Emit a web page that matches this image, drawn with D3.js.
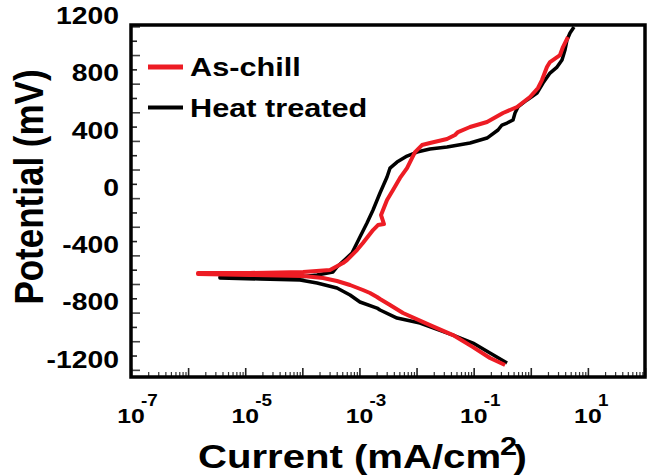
<!DOCTYPE html>
<html>
<head>
<meta charset="utf-8">
<script src="https://cdn.jsdelivr.net/npm/d3@7"></script>
<style>
  body { margin: 0; background: #fff; }
  text { font-family: "Liberation Sans", Arial, sans-serif; font-weight: bold; fill: #000; }
</style>
</head>
<body>
<div class="chart"></div>
<script>
var w = 652;
var h = 475;

// potentiodynamic scans: cathodic branch first, then anodic (mA/cm2, mV)
var asChillCurrent = [0.354, 0.193, 0.0973, 0.0435, 0.0172, 0.00579, 0.00343, 0.00229, 0.00203, 0.00153, 0.00115, 0.000684, 0.000404, 0.00023, 0.000103, 1.21e-5, 1.49e-6,
    1.49e-6, 1.21e-5, 1.03e-4, 3.05e-4, 5.15e-4, 6.05e-4, 9.06e-4, 1.15e-3, 1.73e-3, 2.11e-3, 2.69e-3, 2.39e-3, 3.04e-3, 3.87e-3, 5.13e-3, 6.81e-3, 8.32e-3, 9.40e-3,
    0.01245, 0.01718, 0.0341, 0.0471, 0.0532, 0.0863, 0.1714, 0.3266, 0.574, 0.968, 1.34, 1.57, 1.92, 2.17, 3.25, 3.66, 4.49];
var asChillPotential = [-1266, -1217, -1141, -1057, -987, -903, -847, -805, -791, -763, -742, -707, -679, -658, -644, -637, -630,
    -623, -623, -616, -602, -554, -533, -463, -414, -323, -288, -281, -218, -113, -43, 41, 110, 180, 222,
    271, 285, 313, 341, 362, 397, 432, 495, 537, 607, 670, 725, 816, 851, 900, 956, 1026];

var heatCurrent = [0.384, 0.193, 0.0973, 0.0435, 0.01148, 0.00455, 0.00229, 0.00203, 0.00102, 0.000684, 0.000404, 0.000181, 9.1e-5, 1.82e-5, 3.61e-6,
    3.61e-6, 9.1e-5, 1.81e-4, 3.44e-4, 4.04e-4, 7.41e-4, 1.02e-3, 1.355e-3, 1.73e-3, 2.29e-3, 3.04e-3, 3.43e-3, 4.55e-3, 6.81e-3, 0.01019, 0.01718, 0.0341,
    0.0863, 0.1714, 0.267, 0.313, 0.384, 0.489, 0.530, 0.597, 0.859, 1.285, 1.637, 2.17, 2.88, 3.52, 3.97, 4.31, 4.86, 5.71];
var heatPotential = [-1252, -1183, -1113, -1057, -973, -938, -882, -868, -826, -777, -728, -693, -672, -665, -658,
    -651, -651, -637, -616, -581, -484, -372, -274, -183, -64, 48, 110, 152, 194, 222, 243, 257,
    285, 320, 376, 411, 425, 446, 495, 537, 586, 635, 704, 774, 816, 865, 935, 1005, 1054, 1096];

var seriesNames = ["As-chill", "Heat treated"];
var seriesColors = ["#ed1c24", "#000000"];

var yTickLabels = [-1200, -800, -400, 0, 400, 800, 1200];
var xLabelExponents = [-7, -5, -3, -1, 1];

var SX = 1.18; // the figure is stretched sideways

var plotL = 131, plotR = 645, plotT = 25, plotB = 377;

var xScale = d3.scaleLog()
    .domain([1e-7, 1e2])
    .range([plotL, plotR]);

var yScale = d3.scaleLinear()
    .domain([-1350, 1110])
    .range([plotB, plotT]);

var svg = d3.select(".chart")
    .append("svg")
    .attr("width", w)
    .attr("height", h);

svg.append("rect").attr("width", w).attr("height", h).attr("fill", "#fff");

function stretched(g, x, y, str, size, anchor) {
    return g.append("text")
        .attr("transform", "translate(" + x + "," + y + ") scale(" + SX + ",1)")
        .attr("text-anchor", anchor)
        .style("font-size", size + "px")
        .text(str);
}

// ticks
var decades = d3.range(-7, 3).map(function(e) { return Math.pow(10, e); });
var minorX = [];
decades.slice(0, -1).forEach(function(d) {
    for (var k = 2; k <= 9; k++) minorX.push(d * k);
});

svg.append("g")
    .attr("transform", "translate(0," + plotB + ")")
    .call(d3.axisTop(xScale).tickValues(minorX).tickSize(5).tickFormat(""))
    .call(function(g) { g.select(".domain").remove(); g.selectAll("line").attr("stroke", "#333").attr("stroke-width", 1.2); });

svg.append("g")
    .attr("transform", "translate(0," + plotB + ")")
    .call(d3.axisTop(xScale).tickValues(decades).tickSize(9).tickFormat(""))
    .call(function(g) { g.select(".domain").remove(); g.selectAll("line").attr("stroke", "#222").attr("stroke-width", 1.6); });

var yMinor = d3.range(-1200, 1101, 200);
var yMajor = d3.range(-1300, 1101, 200);

svg.append("g")
    .attr("transform", "translate(" + plotL + ",0)")
    .call(d3.axisRight(yScale).tickValues(yMinor).tickSize(6).tickFormat(""))
    .call(function(g) { g.select(".domain").remove(); g.selectAll("line").attr("stroke", "#222").attr("stroke-width", 1.6); });

svg.append("g")
    .attr("transform", "translate(" + plotL + ",0)")
    .call(d3.axisRight(yScale).tickValues(yMajor).tickSize(9).tickFormat(""))
    .call(function(g) { g.select(".domain").remove(); g.selectAll("line").attr("stroke", "#444").attr("stroke-width", 1.6); });

// frame
svg.append("rect")
    .attr("x", plotL)
    .attr("y", plotT)
    .attr("width", plotR - plotL)
    .attr("height", plotB - plotT)
    .attr("fill", "none")
    .attr("stroke", "#000")
    .attr("stroke-width", 3.5);

// y tick labels
yTickLabels.forEach(function(v) {
    stretched(svg, 119, yScale(v) + 12, String(v), 24, "end");
});

// x tick labels 10^n
xLabelExponents.forEach(function(e) {
    var x = xScale(Math.pow(10, e));
    stretched(svg, x, 423, "10", 21, "middle");
    stretched(svg, x + 10, 406, String(e), 16, "start");
});

// axis titles
var xt = svg.append("text")
    .attr("transform", "translate(198,468) scale(" + SX + ",1)")
    .style("font-size", "34px");
xt.append("tspan").text("Current (mA/cm");
xt.append("tspan").attr("dy", -13).attr("dx", -1).style("font-size", "26px").text("2");
xt.append("tspan").attr("dy", 13).attr("dx", -3).text(")");

svg.append("text")
    .attr("transform", "translate(43,187) scale(" + SX + ",1) rotate(-90)")
    .attr("text-anchor", "middle")
    .style("font-size", "35px")
    .text("Potential (mV)");

// curves
var line = d3.line()
    .x(function(d) { return xScale(d[0]); })
    .y(function(d) { return yScale(d[1]); });

var heat = d3.zip(heatCurrent, heatPotential);
var asChill = d3.zip(asChillCurrent, asChillPotential);

svg.append("path")
    .datum(heat)
    .attr("d", line)
    .attr("fill", "none")
    .attr("stroke", seriesColors[1])
    .attr("stroke-width", 3.5)
    .attr("stroke-linejoin", "round");

svg.append("path")
    .datum(asChill)
    .attr("d", line)
    .attr("fill", "none")
    .attr("stroke", seriesColors[0])
    .attr("stroke-width", 4)
    .attr("stroke-linejoin", "round");

// legend
var legendY = [67, 107.5];
seriesNames.forEach(function(name, i) {
    svg.append("line")
        .attr("x1", 148).attr("x2", 183)
        .attr("y1", legendY[i]).attr("y2", legendY[i])
        .attr("stroke", seriesColors[i])
        .attr("stroke-width", i === 0 ? 5 : 4);
    stretched(svg, 190, legendY[i] + 9, name, 26, "start");
});
</script>
</body>
</html>
